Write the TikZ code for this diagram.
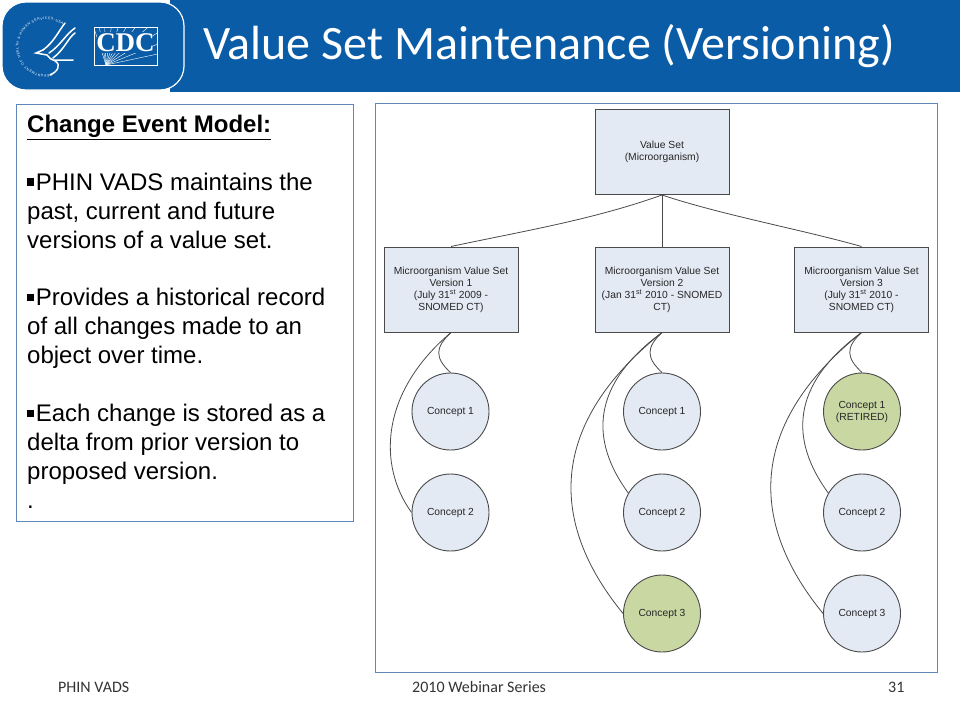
\documentclass[tikz,border=0pt]{standalone}
\usepackage{fontspec}
\setmainfont{Liberation Sans}
\newfontfamily\slidefont{Carlito}
\newfontfamily\logofont{Liberation Serif}
\usetikzlibrary{decorations.text}
\definecolor{cdcblue}{HTML}{0A5CA6}
\definecolor{panelline}{HTML}{5F88B8}
\definecolor{boxfill}{HTML}{E4EAF4}
\definecolor{retiredfill}{HTML}{C9D7A2}
\definecolor{nodeline}{HTML}{4A4A4A}
\newcommand{\bulletmark}{\rule[0.2em]{0.3em}{0.3em}\hspace{0.06em}}

\begin{document}
\begin{tikzpicture}[x=1pt,y=-1pt,
  panel/.style={draw=panelline, line width=0.8pt, anchor=north west, inner sep=0pt, fill=white},
  setbox/.style={draw=nodeline, line width=1pt, fill=boxfill, minimum width=134pt, minimum height=85pt, inner sep=0pt, align=center, font=\fontsize{10.3}{12}\selectfont, text=black!85},
  concept/.style={circle, draw=nodeline, line width=0.9pt, fill=boxfill, minimum size=77pt, inner sep=0pt, align=center, font=\fontsize{10.3}{12}\selectfont, text=black!85},
  link/.style={draw=nodeline, line width=0.8pt},
  footer/.style={font=\slidefont\fontsize{16}{18}\selectfont, text=black!80, anchor=west, inner sep=0pt},
  swoosh/.style={draw=white, line width=1.5pt, line cap=round}]
\useasboundingbox (0,0) rectangle (960,720);
% Header band
\fill[cdcblue] (170,0) rectangle (960,92);
\draw[white, line width=1.2pt, fill=cdcblue, rounded corners=24pt] (2,2) rectangle (184,90);
\node[anchor=west, inner sep=0pt, text=white, font=\slidefont\fontsize{48}{54}\selectfont] (title) at (203,46) {Value Set Maintenance (Versioning)};
% Seal
\path[decorate, decoration={text along path, text align=fit to path, text color=white,
  text={|\fontsize{3.5}{4}\selectfont|DEPARTMENT OF HEALTH {\&} HUMAN SERVICES-USA}}]
  (52.2,73.8) arc[start angle=77, end angle=307, radius=27.5];
\draw[swoosh] (65,23) .. controls (58,32) and (54,42) .. (43,50);
\draw[swoosh] (75,28) .. controls (66,34) and (60,46) .. (49,53);
\draw[swoosh] (75,33) .. controls (68,38) and (64,50) .. (53,58);
\draw[swoosh] (43,50) -- (36,53) -- (47,55) .. controls (50,58) and (51,60) .. (53,60) -- (73,60);
\draw[swoosh] (55,61) .. controls (62,65) and (57,72) .. (50,75);
% CDC mark
\draw[white, line width=0.6pt] (94.5,27.5) rectangle (157,65);
\begin{scope}
  \clip (94.5,27.5) rectangle (157,65);
  \foreach \a in {12,22,...,92,100,108} {
    \draw[white, line width=0.4pt] (106,65) -- ++(-\a:70);
  }
\end{scope}
\fill[cdcblue] (97,32) rectangle (152,53);
\node[inner sep=0pt, text=white, font=\logofont\bfseries\fontsize{27}{27}\selectfont] (cdc) at (125.5,43) {CDC};
% Left text panel
\node[panel, minimum width=337pt, minimum height=417pt] (modelbox) at (16,104) {};
\node[anchor=north west, inner sep=0pt, align=left, font=\fontsize{24}{28.9}\selectfont, text=black] (modeltext) at (27,115) {\underline{\textbf{Change Event Model:}}\\[28.9pt]
\bulletmark PHIN VADS maintains the\\past, current and future\\versions of a value set.\\[28.9pt]
\bulletmark Provides a historical record\\of all changes made to an\\object over time.\\[28.9pt]
\bulletmark Each change is stored as a\\delta from prior version to\\proposed version.\\.};
% Diagram panel
\node[panel, minimum width=562pt, minimum height=569pt] (diagram) at (375,103) {};
% Value set and versions
\node[setbox] (root) at (662,152) {Value Set\\(Microorganism)};
\node[setbox] (v1) at (451,289.5) {Microorganism Value Set\\Version 1\\(July 31\textsuperscript{st} 2009 -\\SNOMED CT)};
\node[setbox] (v2) at (662,289.5) {Microorganism Value Set\\Version 2\\(Jan 31\textsuperscript{st} 2010 - SNOMED\\CT)};
\node[setbox] (v3) at (861.5,289.5) {Microorganism Value Set\\Version 3\\(July 31\textsuperscript{st} 2010 -\\SNOMED CT)};
% Concepts
\foreach \name/\x/\y/\l in {c11/450.5/411.5/Concept 1,c12/450.5/512.5/Concept 2,c21/662/411.5/Concept 1,c22/662/512.5/Concept 2,c32/862/512.5/Concept 2,c33/862/613.5/Concept 3} {
  \node[concept] (\name) at (\x,\y) {\l};
}
\node[concept, fill=retiredfill] (c23) at (662,613.5) {Concept 3};
\node[concept, fill=retiredfill] (c31) at (862,411.5) {Concept 1\\(RETIRED)};
% Links from the value set
\draw[link] (root.south) .. controls +(-70,25) and +(70,-15) .. (v1.north);
\draw[link, line width=1pt] (root.south) -- (v2.north);
\draw[link] (root.south) .. controls +(60,20) and +(-60,-17) .. (v3.north);
% Links to concepts
\draw[link] (v1.south) .. controls +(-16,15) and +(-16,-15) .. (c11.north);
\draw[link] (v1.south) .. controls +(-71,60) and +(-34,-47) .. (c12.west);
\foreach \v/\ca/\cb/\cc in {v2/c21/c22/c23,v3/c31/c32/c33} {
  \draw[link] (\v.south) .. controls +(-16,15) and +(-16,-15) .. (\ca.north);
  \draw[link] (\v.south) .. controls +(-72,53) and +(-38,-52) .. (\cb.150);
  \draw[link] (\v.south) .. controls +(-122,98) and +(-68,-83) .. (\cc.west);
}
% Footer
\node[footer] (foot1) at (58,687) {PHIN VADS};
\node[footer] (foot2) at (412,687) {2010 Webinar Series};
\node[footer] (foot3) at (888,687) {31};
\end{tikzpicture}
\end{document}
